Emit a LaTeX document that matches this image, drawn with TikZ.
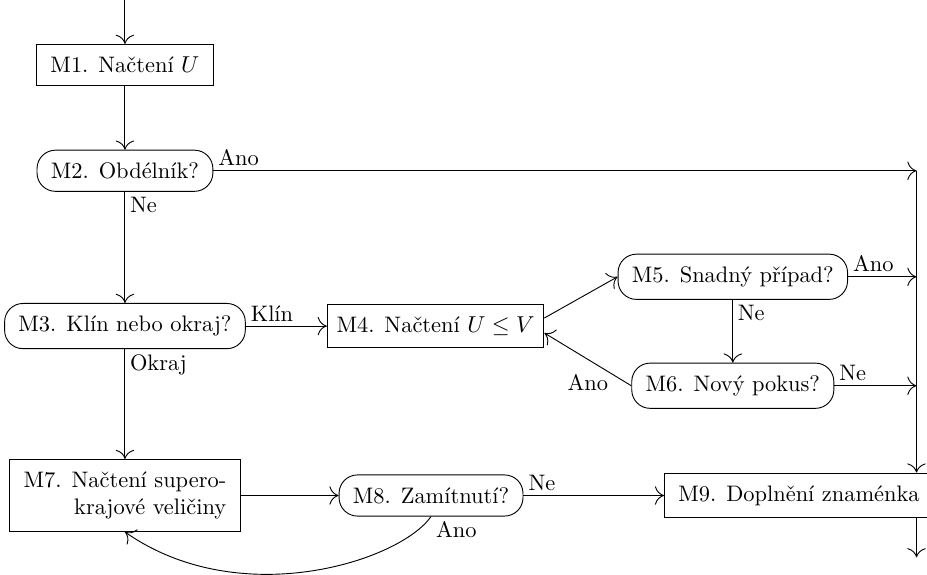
\documentclass[tikz,border=0pt]{standalone}
\usepackage{tikz}
\usepackage{amsmath}
\usetikzlibrary{arrows.meta,positioning}

\begin{document}
\begin{tikzpicture}[
  every node/.append style={font=\fontsize{9.75pt}{11.7pt}\selectfont},
  box/.style={draw,inner xsep=6pt,inner ysep=5.4pt,align=center},
  test/.style={box,rounded corners=8pt},
  arr/.style={-{To[length=4pt,width=8pt]}},
  lbl/.style={inner sep=2pt}
]
  \useasboundingbox (0,0) rectangle (14.17,-8.78);

  \node[box] (m1) at (1.91,-0.99) {M1. Načtení $U$};
  \node[test, below=0.98cm of m1] (m2) {M2. Obdélník?};
  \node[test, below=1.7cm of m2] (m3) {M3. Klín nebo okraj?};
  \node[box, right=1.24cm of m3, inner xsep=4pt] (m4) {M4. Načtení $U \le V$};
  \node[test, above right=0.06cm and 1.12cm of m4] (m5) {M5. Snadný případ?};
  \node[test, below=0.96cm of m5] (m6) {M6. Nový pokus?};
  \node[box, below=1.68cm of m3, align=right] (m7)
        {M7. Načtení supero-\\krajové veličiny};
  \node[test, right=1.50cm of m7] (m8) {M8. Zamítnutí?};
  \node[box, right=2.15cm of m8] (m9) {M9. Doplnění znaménka};

  \coordinate (in)  at (m1 |- 0,0);
  \coordinate (bus) at (m9.north -| 14.01,0);
  \coordinate (out) at (bus |- 0,-8.52);

  \draw[arr] (in) -- (m1);
  \draw[arr] (m1) -- (m2);
  \draw[arr] (m2) -- node[lbl, below right, pos=0] {Ne} (m3);
  \draw[arr] (m2) -- node[lbl, above right, pos=0] {Ano} (m2 -| bus);
  \draw[arr] (m2 -| bus) -- (bus);
  \draw[arr] (m3) -- node[lbl, above right, pos=0] {Klín} (m4);
  \draw[arr] (m3) -- node[lbl, below right, pos=0] {Okraj} (m7);
  \draw[arr] ([yshift=3.5pt]m4.east) -- (m5.west);
  \draw[arr] (m5) -- node[lbl, above right, pos=0] {Ano} (m5 -| bus);
  \draw[arr] (m5) -- node[lbl, below right, pos=0] {Ne} (m6);
  \draw[arr] (m6) -- node[lbl, above right, pos=0] {Ne} (m6 -| bus);
  \draw[arr] (m6.west) -- node[below=3pt] {Ano} ([yshift=-3pt]m4.east);
  \draw[arr] (m7) -- (m8);
  \draw[arr] (m8) -- node[lbl, above right, pos=0] {Ne} (m9);
  \draw[arr] (m8.south) .. controls +(-125:0.84) and +(-35:2.14) ..
        node[lbl, below right, pos=0] {Ano} (m7.south);
  \draw[arr] (m9.south -| bus) -- (out);
\end{tikzpicture}
\end{document}
